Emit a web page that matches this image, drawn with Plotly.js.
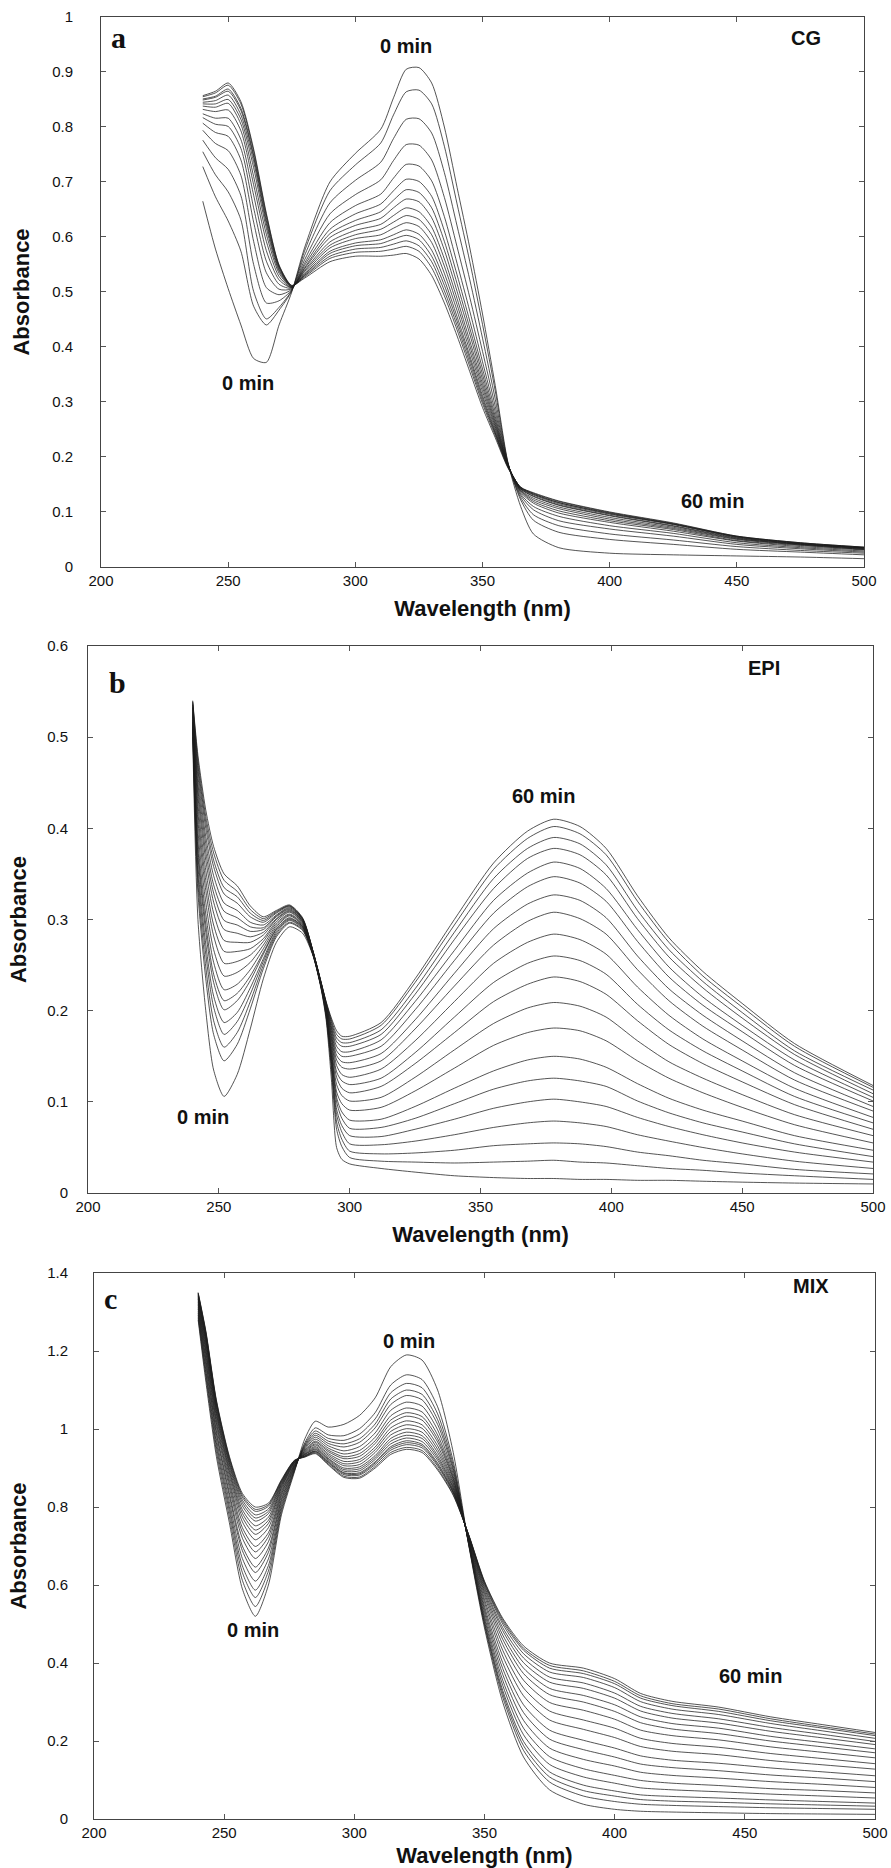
<!DOCTYPE html>
<html><head><meta charset="utf-8">
<script src="https://cdn.plot.ly/plotly-3.0.1.min.js"></script>
<style>html,body{margin:0;padding:0;background:#fff}#chart{width:891px;height:1868px}</style>
</head><body><div id="chart"></div>
<script>
// ---------- Panel a : CG ----------
const cgTimes = [0, 2, 4, 6, 8, 10, 12, 15, 18, 21, 25, 30, 35, 40, 50, 60];
const cgWavelengths = [240, 245, 250, 255, 260, 265, 270, 275, 280, 290, 300, 310, 315, 320, 325, 330, 335, 340, 345, 350, 355, 360, 365, 370, 380, 400, 425, 450, 475, 500];
// each row: absorbance of all spectra (0 -> 60 min) at one wavelength
const cgAbsByWavelength = [
  [0.665,0.728,0.755,0.776,0.794,0.807,0.817,0.824,0.832,0.838,0.842,0.845,0.849,0.851,0.855,0.857],
  [0.578,0.673,0.713,0.744,0.770,0.790,0.805,0.816,0.828,0.836,0.842,0.848,0.854,0.856,0.862,0.865],
  [0.506,0.629,0.682,0.723,0.757,0.783,0.801,0.816,0.831,0.843,0.850,0.858,0.865,0.869,0.876,0.880],
  [0.440,0.574,0.631,0.675,0.712,0.740,0.761,0.777,0.793,0.805,0.814,0.822,0.830,0.834,0.842,0.846],
  [0.379,0.474,0.501,0.550,0.592,0.627,0.653,0.676,0.695,0.710,0.726,0.737,0.745,0.749,0.756,0.760],
  [0.372,0.440,0.451,0.480,0.508,0.535,0.556,0.575,0.592,0.605,0.616,0.624,0.629,0.635,0.640,0.643],
  [0.440,0.467,0.472,0.484,0.495,0.505,0.514,0.522,0.528,0.534,0.538,0.541,0.544,0.546,0.548,0.549],
  [0.500,0.502,0.503,0.504,0.505,0.506,0.507,0.508,0.508,0.509,0.509,0.510,0.510,0.511,0.511,0.512],
  [0.580,0.574,0.566,0.558,0.552,0.548,0.544,0.542,0.539,0.537,0.534,0.532,0.530,0.529,0.527,0.525],
  [0.700,0.684,0.662,0.642,0.626,0.614,0.606,0.599,0.591,0.585,0.580,0.574,0.570,0.565,0.561,0.555],
  [0.752,0.731,0.703,0.677,0.657,0.642,0.630,0.621,0.612,0.604,0.597,0.589,0.584,0.578,0.572,0.565],
  [0.796,0.771,0.736,0.704,0.678,0.660,0.646,0.634,0.623,0.614,0.604,0.595,0.588,0.581,0.574,0.565],
  [0.853,0.822,0.779,0.739,0.707,0.684,0.667,0.653,0.639,0.627,0.616,0.604,0.596,0.587,0.578,0.567],
  [0.905,0.864,0.814,0.768,0.732,0.705,0.686,0.669,0.653,0.639,0.626,0.613,0.603,0.593,0.583,0.570],
  [0.908,0.867,0.815,0.767,0.729,0.701,0.681,0.664,0.646,0.632,0.619,0.605,0.595,0.584,0.574,0.560],
  [0.880,0.842,0.789,0.740,0.702,0.674,0.653,0.635,0.618,0.604,0.590,0.576,0.565,0.555,0.544,0.530],
  [0.800,0.765,0.717,0.672,0.637,0.611,0.592,0.576,0.560,0.547,0.534,0.522,0.512,0.502,0.493,0.480],
  [0.690,0.660,0.620,0.582,0.552,0.531,0.515,0.501,0.488,0.477,0.466,0.455,0.447,0.439,0.431,0.420],
  [0.580,0.555,0.522,0.490,0.465,0.447,0.434,0.423,0.411,0.402,0.393,0.384,0.378,0.371,0.364,0.355],
  [0.460,0.441,0.416,0.392,0.373,0.360,0.350,0.341,0.333,0.326,0.319,0.312,0.307,0.302,0.297,0.290],
  [0.330,0.320,0.305,0.292,0.282,0.274,0.268,0.263,0.259,0.255,0.251,0.247,0.244,0.242,0.239,0.235],
  [0.190,0.189,0.188,0.188,0.187,0.186,0.186,0.185,0.185,0.184,0.184,0.183,0.183,0.182,0.181,0.180],
  [0.110,0.122,0.126,0.130,0.133,0.136,0.138,0.139,0.140,0.142,0.142,0.143,0.144,0.144,0.145,0.145],
  [0.060,0.085,0.095,0.104,0.110,0.116,0.119,0.122,0.125,0.128,0.129,0.131,0.132,0.133,0.134,0.135],
  [0.035,0.063,0.075,0.084,0.092,0.098,0.102,0.106,0.109,0.112,0.113,0.115,0.117,0.117,0.119,0.120],
  [0.025,0.050,0.060,0.069,0.075,0.081,0.084,0.087,0.090,0.093,0.094,0.096,0.097,0.098,0.099,0.100],
  [0.022,0.041,0.049,0.056,0.061,0.065,0.068,0.070,0.072,0.074,0.075,0.077,0.078,0.078,0.079,0.080],
  [0.020,0.032,0.037,0.041,0.044,0.047,0.048,0.050,0.051,0.052,0.053,0.054,0.055,0.055,0.056,0.056],
  [0.018,0.027,0.030,0.033,0.035,0.037,0.039,0.040,0.041,0.041,0.042,0.042,0.043,0.043,0.044,0.044],
  [0.015,0.022,0.025,0.027,0.029,0.031,0.032,0.032,0.033,0.034,0.034,0.035,0.035,0.035,0.036,0.036]
];

// ---------- Panel b : EPI ----------
const epiTimes = [0, 1, 2, 3, 4, 5, 6, 8, 10, 12, 14, 16, 19, 22, 25, 29, 34, 40, 50, 60];
const epiWavelengths = [240, 242, 245, 248, 252, 257, 262, 267, 272, 277, 282, 286, 289, 291, 293, 295, 297, 300, 312, 325, 340, 355, 368, 378, 388, 398, 410, 422, 435, 450, 470, 500];
const epiAbsByWavelength = [
  [0.500,0.506,0.509,0.511,0.513,0.516,0.517,0.519,0.522,0.524,0.526,0.528,0.530,0.532,0.533,0.535,0.536,0.538,0.539,0.540],
  [0.300,0.329,0.340,0.350,0.359,0.370,0.377,0.386,0.397,0.408,0.417,0.426,0.435,0.442,0.449,0.457,0.464,0.469,0.475,0.480],
  [0.200,0.235,0.248,0.262,0.273,0.286,0.295,0.306,0.319,0.332,0.343,0.354,0.365,0.374,0.383,0.391,0.400,0.407,0.413,0.420],
  [0.135,0.174,0.189,0.204,0.216,0.231,0.240,0.253,0.267,0.282,0.294,0.307,0.319,0.329,0.338,0.348,0.358,0.365,0.373,0.380],
  [0.106,0.145,0.160,0.174,0.187,0.201,0.211,0.223,0.238,0.252,0.265,0.277,0.289,0.299,0.309,0.318,0.328,0.335,0.343,0.350],
  [0.130,0.163,0.176,0.188,0.198,0.211,0.219,0.229,0.242,0.254,0.265,0.275,0.285,0.294,0.302,0.310,0.318,0.325,0.331,0.337],
  [0.180,0.202,0.210,0.218,0.225,0.233,0.238,0.245,0.253,0.261,0.268,0.275,0.281,0.287,0.292,0.297,0.303,0.307,0.311,0.315],
  [0.235,0.246,0.250,0.254,0.257,0.262,0.264,0.268,0.272,0.276,0.279,0.283,0.286,0.289,0.291,0.294,0.297,0.299,0.301,0.303],
  [0.275,0.281,0.283,0.285,0.287,0.289,0.290,0.292,0.294,0.296,0.298,0.300,0.301,0.303,0.304,0.305,0.307,0.308,0.309,0.310],
  [0.292,0.296,0.297,0.299,0.300,0.301,0.302,0.304,0.305,0.306,0.308,0.309,0.310,0.311,0.312,0.313,0.314,0.315,0.315,0.316],
  [0.285,0.288,0.289,0.290,0.291,0.292,0.292,0.293,0.294,0.295,0.296,0.297,0.298,0.298,0.299,0.300,0.300,0.301,0.301,0.302],
  [0.260,0.261,0.261,0.261,0.262,0.262,0.262,0.262,0.263,0.263,0.263,0.264,0.264,0.264,0.264,0.264,0.265,0.265,0.265,0.265],
  [0.225,0.226,0.227,0.227,0.227,0.228,0.228,0.228,0.229,0.229,0.230,0.230,0.230,0.231,0.231,0.231,0.231,0.232,0.232,0.232],
  [0.190,0.193,0.194,0.196,0.197,0.198,0.199,0.200,0.201,0.202,0.203,0.204,0.205,0.206,0.207,0.207,0.208,0.209,0.209,0.210],
  [0.125,0.136,0.140,0.144,0.147,0.151,0.154,0.157,0.161,0.165,0.169,0.172,0.175,0.178,0.181,0.183,0.186,0.188,0.190,0.192],
  [0.050,0.070,0.078,0.086,0.092,0.100,0.105,0.111,0.119,0.127,0.133,0.140,0.146,0.151,0.156,0.161,0.166,0.170,0.174,0.178],
  [0.037,0.051,0.059,0.067,0.074,0.082,0.089,0.098,0.107,0.115,0.123,0.130,0.138,0.144,0.150,0.155,0.161,0.165,0.169,0.172],
  [0.032,0.039,0.046,0.054,0.063,0.071,0.080,0.091,0.101,0.110,0.119,0.127,0.136,0.143,0.150,0.155,0.161,0.165,0.169,0.172],
  [0.027,0.035,0.043,0.053,0.062,0.072,0.081,0.094,0.105,0.117,0.126,0.136,0.145,0.153,0.161,0.168,0.174,0.179,0.184,0.187],
  [0.023,0.034,0.044,0.057,0.070,0.082,0.095,0.112,0.127,0.142,0.154,0.167,0.180,0.190,0.201,0.210,0.218,0.224,0.231,0.235],
  [0.019,0.033,0.047,0.064,0.081,0.098,0.115,0.137,0.157,0.176,0.193,0.210,0.227,0.241,0.255,0.266,0.278,0.286,0.294,0.300],
  [0.017,0.034,0.052,0.072,0.093,0.114,0.134,0.162,0.186,0.210,0.231,0.252,0.272,0.290,0.307,0.321,0.334,0.345,0.355,0.362],
  [0.016,0.035,0.054,0.077,0.100,0.123,0.146,0.176,0.203,0.229,0.252,0.275,0.298,0.317,0.336,0.351,0.367,0.378,0.389,0.397],
  [0.016,0.036,0.055,0.079,0.103,0.126,0.150,0.181,0.209,0.237,0.260,0.284,0.308,0.327,0.347,0.363,0.378,0.390,0.402,0.410],
  [0.015,0.034,0.054,0.077,0.100,0.123,0.147,0.178,0.205,0.232,0.255,0.278,0.301,0.321,0.340,0.356,0.371,0.383,0.394,0.402],
  [0.015,0.033,0.051,0.073,0.095,0.117,0.138,0.167,0.193,0.218,0.240,0.262,0.284,0.302,0.320,0.334,0.349,0.360,0.371,0.378],
  [0.014,0.030,0.045,0.064,0.083,0.101,0.120,0.145,0.167,0.189,0.207,0.226,0.245,0.260,0.276,0.289,0.301,0.310,0.320,0.326],
  [0.014,0.027,0.041,0.057,0.073,0.088,0.104,0.126,0.144,0.163,0.179,0.195,0.211,0.224,0.237,0.248,0.259,0.267,0.275,0.280],
  [0.013,0.025,0.036,0.050,0.064,0.077,0.091,0.110,0.126,0.142,0.156,0.169,0.183,0.195,0.206,0.215,0.225,0.232,0.238,0.243],
  [0.012,0.022,0.032,0.043,0.055,0.067,0.079,0.094,0.108,0.122,0.134,0.145,0.157,0.167,0.177,0.184,0.192,0.198,0.204,0.208],
  [0.011,0.019,0.026,0.035,0.045,0.054,0.063,0.075,0.086,0.097,0.106,0.115,0.124,0.132,0.140,0.146,0.152,0.156,0.161,0.164],
  [0.010,0.015,0.021,0.027,0.034,0.040,0.047,0.055,0.063,0.070,0.077,0.083,0.090,0.095,0.101,0.105,0.109,0.113,0.116,0.118]
];

// ---------- Panel c : MIX ----------
const mixTimes = [0, 1, 2, 3, 4, 5, 6, 8, 10, 12, 14, 16, 19, 22, 25, 29, 34, 40, 50, 60];
const mixWavelengths = [240, 243, 247, 252, 257, 262, 267, 272, 277, 281, 285, 290, 296, 302, 308, 314, 320, 326, 332, 338, 344, 350, 357, 365, 375, 388, 400, 410, 422, 440, 460, 480, 500];
const mixAbsByWavelength = [
  [1.280,1.286,1.292,1.297,1.302,1.308,1.312,1.317,1.321,1.325,1.329,1.333,1.335,1.338,1.341,1.343,1.345,1.347,1.349,1.350],
  [1.120,1.132,1.142,1.151,1.162,1.172,1.179,1.189,1.197,1.203,1.211,1.218,1.223,1.228,1.233,1.237,1.241,1.245,1.247,1.250],
  [0.930,0.943,0.955,0.965,0.976,0.988,0.995,1.007,1.016,1.023,1.032,1.039,1.045,1.050,1.056,1.061,1.065,1.069,1.072,1.075],
  [0.760,0.775,0.789,0.801,0.814,0.828,0.837,0.850,0.860,0.869,0.879,0.888,0.894,0.901,0.908,0.913,0.918,0.923,0.927,0.930],
  [0.590,0.612,0.632,0.649,0.668,0.688,0.700,0.720,0.735,0.747,0.762,0.774,0.784,0.793,0.803,0.811,0.818,0.825,0.830,0.835],
  [0.520,0.545,0.568,0.587,0.610,0.632,0.646,0.668,0.685,0.699,0.716,0.730,0.741,0.752,0.764,0.772,0.780,0.789,0.794,0.800],
  [0.600,0.619,0.636,0.650,0.667,0.684,0.695,0.711,0.724,0.734,0.747,0.758,0.766,0.774,0.783,0.789,0.795,0.802,0.806,0.810],
  [0.780,0.788,0.795,0.802,0.809,0.816,0.821,0.828,0.833,0.838,0.843,0.848,0.851,0.855,0.858,0.861,0.864,0.866,0.868,0.870],
  [0.890,0.893,0.895,0.897,0.900,0.902,0.904,0.906,0.908,0.909,0.911,0.913,0.914,0.915,0.916,0.917,0.918,0.919,0.919,0.920],
  [0.975,0.965,0.961,0.958,0.955,0.952,0.949,0.946,0.944,0.942,0.940,0.938,0.936,0.935,0.934,0.932,0.931,0.930,0.929,0.928],
  [1.020,1.003,0.995,0.989,0.984,0.979,0.974,0.969,0.966,0.962,0.959,0.955,0.952,0.949,0.947,0.944,0.943,0.941,0.939,0.937],
  [1.005,0.985,0.976,0.969,0.963,0.957,0.951,0.946,0.942,0.937,0.933,0.929,0.925,0.923,0.920,0.917,0.915,0.913,0.910,0.908],
  [1.012,0.983,0.971,0.962,0.954,0.944,0.936,0.929,0.924,0.917,0.911,0.906,0.900,0.896,0.892,0.888,0.886,0.883,0.879,0.876],
  [1.035,1.001,0.987,0.975,0.966,0.955,0.945,0.937,0.930,0.922,0.916,0.909,0.903,0.898,0.893,0.888,0.885,0.882,0.877,0.874],
  [1.080,1.042,1.026,1.013,1.003,0.990,0.979,0.970,0.963,0.954,0.947,0.940,0.932,0.927,0.922,0.916,0.913,0.909,0.904,0.900],
  [1.160,1.113,1.093,1.077,1.063,1.048,1.034,1.023,1.014,1.003,0.994,0.985,0.976,0.969,0.962,0.955,0.951,0.946,0.940,0.935],
  [1.190,1.139,1.117,1.100,1.086,1.069,1.054,1.042,1.033,1.021,1.011,1.001,0.992,0.984,0.977,0.970,0.965,0.960,0.953,0.948],
  [1.177,1.127,1.106,1.089,1.075,1.059,1.044,1.032,1.023,1.011,1.002,0.992,0.983,0.976,0.968,0.961,0.957,0.952,0.945,0.940],
  [1.100,1.057,1.039,1.024,1.012,0.998,0.985,0.975,0.967,0.957,0.948,0.940,0.932,0.926,0.920,0.913,0.909,0.905,0.899,0.895],
  [0.940,0.917,0.907,0.899,0.893,0.885,0.878,0.873,0.869,0.863,0.859,0.854,0.850,0.847,0.843,0.840,0.838,0.836,0.832,0.830],
  [0.700,0.702,0.703,0.704,0.706,0.707,0.709,0.711,0.713,0.715,0.717,0.719,0.721,0.722,0.724,0.725,0.726,0.727,0.727,0.728],
  [0.490,0.497,0.502,0.507,0.514,0.521,0.530,0.538,0.546,0.556,0.564,0.573,0.580,0.586,0.592,0.597,0.602,0.605,0.608,0.610],
  [0.300,0.313,0.322,0.330,0.343,0.356,0.371,0.386,0.401,0.418,0.433,0.448,0.461,0.472,0.483,0.491,0.500,0.506,0.511,0.515],
  [0.159,0.176,0.188,0.199,0.216,0.233,0.253,0.273,0.293,0.316,0.336,0.356,0.373,0.387,0.401,0.413,0.424,0.433,0.438,0.444],
  [0.075,0.095,0.108,0.121,0.140,0.160,0.182,0.205,0.228,0.254,0.277,0.299,0.319,0.335,0.351,0.364,0.377,0.387,0.394,0.400],
  [0.038,0.059,0.073,0.087,0.108,0.129,0.153,0.178,0.202,0.230,0.254,0.279,0.300,0.317,0.335,0.349,0.363,0.373,0.380,0.387],
  [0.025,0.045,0.059,0.072,0.092,0.112,0.136,0.159,0.182,0.209,0.233,0.256,0.276,0.293,0.310,0.323,0.337,0.347,0.353,0.360],
  [0.020,0.038,0.050,0.062,0.080,0.099,0.120,0.141,0.162,0.186,0.207,0.228,0.247,0.262,0.277,0.289,0.301,0.310,0.316,0.322],
  [0.018,0.035,0.046,0.058,0.075,0.092,0.112,0.132,0.151,0.174,0.194,0.214,0.231,0.245,0.259,0.271,0.282,0.291,0.296,0.302],
  [0.016,0.032,0.043,0.054,0.070,0.086,0.105,0.124,0.143,0.165,0.184,0.203,0.219,0.233,0.246,0.257,0.268,0.276,0.282,0.287],
  [0.014,0.029,0.039,0.049,0.064,0.078,0.096,0.113,0.131,0.150,0.168,0.185,0.200,0.212,0.225,0.235,0.245,0.252,0.257,0.262],
  [0.013,0.027,0.036,0.045,0.059,0.073,0.089,0.105,0.121,0.139,0.155,0.171,0.185,0.196,0.208,0.217,0.226,0.233,0.237,0.242],
  [0.012,0.025,0.033,0.041,0.054,0.067,0.081,0.096,0.111,0.128,0.142,0.157,0.170,0.180,0.191,0.199,0.207,0.214,0.218,0.222]
];

const xTickVals = [200, 250, 300, 350, 400, 450, 500];

// ---------- build traces ----------
const LINE = {color: '#1c1c1c', width: 0.75, shape: 'spline', smoothing: 0.7};
function spectra(wl, table, times, xa, ya) {
  return times.map((t, i) => ({
    type: 'scatter', mode: 'lines', name: t + ' min',
    x: wl, y: table.map(row => row[i]),
    xaxis: xa, yaxis: ya, line: LINE, hoverinfo: 'skip', showlegend: false
  }));
}
const traces = [].concat(
  spectra(cgWavelengths, cgAbsByWavelength, cgTimes, 'x', 'y'),
  spectra(epiWavelengths, epiAbsByWavelength, epiTimes, 'x2', 'y2'),
  spectra(mixWavelengths, mixAbsByWavelength, mixTimes, 'x3', 'y3')
);

const SANS = 'Liberation Sans, Arial, Helvetica, sans-serif';
function xAxis(domain, anchor) {
  return {
    domain: domain, anchor: anchor, range: [200, 500], tickvals: xTickVals,
    ticks: 'inside', ticklen: 5, tickwidth: 1, tickcolor: '#555',
    showline: true, linecolor: '#444', linewidth: 1, mirror: 'ticks',
    showgrid: false, zeroline: false,
    tickfont: {family: SANS, size: 15, color: '#111'},
    title: {text: '<b>Wavelength (nm)</b>', font: {family: SANS, size: 22, color: '#111'}, standoff: 12}
  };
}
function yAxis(domain, anchor, range, dtick, standoffLbl, standoffTitle) {
  return {
    domain: domain, anchor: anchor, range: range, dtick: dtick, tick0: 0,
    ticks: 'inside', ticklen: 5, tickwidth: 1, tickcolor: '#555',
    showline: true, linecolor: '#444', linewidth: 1, mirror: 'ticks',
    showgrid: false, zeroline: false, ticklabelstandoff: standoffLbl,
    tickfont: {family: SANS, size: 15, color: '#111'},
    title: {text: '<b>Absorbance</b>', font: {family: SANS, size: 22, color: '#111'}, standoff: standoffTitle}
  };
}
function label(text, x, y, xr, yr, size, family) {
  return {text: text, x: x, y: y, xref: xr, yref: yr, showarrow: false,
          xanchor: 'center', yanchor: 'middle',
          font: {family: family || SANS, size: size, color: '#111'}};
}
const SERIF = 'Liberation Serif, Times New Roman, serif';
const layout = {
  width: 891, height: 1868, margin: {l: 0, r: 0, t: 0, b: 0},
  paper_bgcolor: '#fff', plot_bgcolor: '#fff', showlegend: false,
  xaxis: xAxis([0.1134, 0.9697], 'y'),
  yaxis: yAxis([0.6965, 0.9909], 'x', [0, 1], 0.1, 24, 16),
  xaxis2: xAxis([0.0988, 0.9798], 'y2'),
  yaxis2: yAxis([0.3613, 0.6542], 'x2', [0, 0.6], 0.1, 16, 14),
  xaxis3: xAxis([0.1055, 0.9820], 'y3'),
  yaxis3: yAxis([0.0262, 0.3185], 'x3', [0, 1.4], 0.2, 22, 14),
  annotations: [
    label('<b>a</b>', 206.7, 0.962, 'x', 'y', 30, SERIF),
    label('<b>CG</b>', 477.2, 0.962, 'x', 'y', 20),
    label('<b>0 min</b>', 319.9, 0.947, 'x', 'y', 20),
    label('<b>0 min</b>', 257.8, 0.335, 'x', 'y', 20),
    label('<b>60 min</b>', 440.3, 0.120, 'x', 'y', 20),
    label('<b>b</b>', 211.1, 0.560, 'x2', 'y2', 30, SERIF),
    label('<b>EPI</b>', 458.3, 0.576, 'x2', 'y2', 20),
    label('<b>60 min</b>', 374.2, 0.4355, 'x2', 'y2', 20),
    label('<b>0 min</b>', 243.9, 0.0834, 'x2', 'y2', 20),
    label('<b>c</b>', 206.5, 1.335, 'x3', 'y3', 30, SERIF),
    label('<b>MIX</b>', 475.4, 1.367, 'x3', 'y3', 20),
    label('<b>0 min</b>', 321.0, 1.226, 'x3', 'y3', 20),
    label('<b>0 min</b>', 261.1, 0.485, 'x3', 'y3', 20),
    label('<b>60 min</b>', 452.0, 0.367, 'x3', 'y3', 20)
  ]
};
Plotly.newPlot('chart', traces, layout, {staticPlot: true, displayModeBar: false});
</script>
</body></html>
